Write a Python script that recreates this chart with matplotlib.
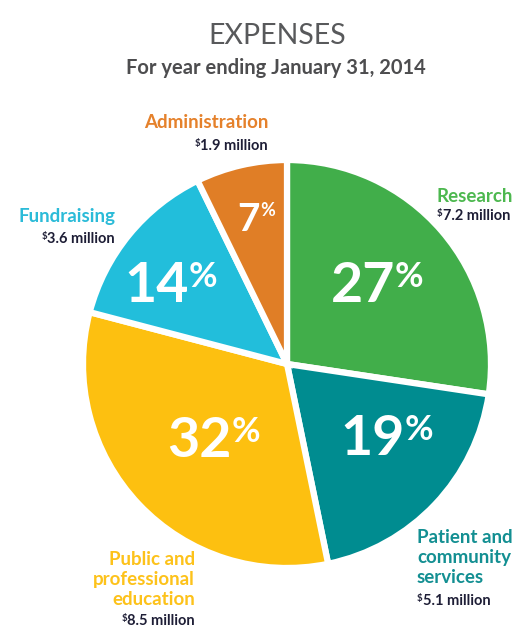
import matplotlib.pyplot as plt

plt.rcParams['font.family'] = ['Lato', 'DejaVu Sans']

W, H = 519, 630

categories = ['Research', 'Patient and\ncommunity\nservices', 'Public and\nprofessional\neducation',
              'Fundraising', 'Administration']
amounts = [7.2, 5.1, 8.5, 3.6, 1.9]   # $ million
colors = ['#41ae4a', '#008c90', '#fdc010', '#22bedb', '#e07e26']
label_colors = ['#4db84f', '#138f92', '#fdc21a', '#2bbbd8', '#e5812b']
amount_color = '#1e1e36'

# layout (image pixel coords, y downward): label x, first baseline, alignment
label_pos = [(437, 202, 'left'), (417, 543, 'left'), (195, 565, 'right'),
             (115, 222, 'right'), (268, 128, 'right')]
amount_base = [220, 605, 625, 243, 150]
pct_pos = [(377, 302, 40, 25), (387, 455, 40, 25), (214, 457, 40, 25),
           (171, 302, 40, 25), (256, 231, 28, 13)]

fig = plt.figure(figsize=(W / 100, H / 100), dpi=100)
ax = fig.add_axes([0, 0, 1, 1])
ax.pie(amounts, colors=colors, startangle=90, counterclock=False,
       center=(287, H - 364), radius=204,
       wedgeprops=dict(edgecolor='white', linewidth=4.5))
ax.set_xlim(0, W)
ax.set_ylim(0, H)
ax.axis('off')

r = fig.canvas.get_renderer()


def width(t):
    return t.get_window_extent(renderer=r).width


## title
ax.text(277, H - 36, 'EXPENSES', ha='center', va='center', size=20.5, color='#58595b')
ax.text(276, H - 68, 'For year ending January 31, 2014', ha='center', va='center',
        size=14.5, weight='bold', color='#4d4d4f')

total = sum(amounts)
for i in range(len(amounts)):
    # percent inside the slice, with a smaller % sign
    x, yb, big, small = pct_pos[i]
    num = '{:.0f}'.format(amounts[i] / total * 100)
    t1 = ax.text(0, H - yb, num, size=big, weight='bold', color='white',
                 ha='left', va='baseline')
    t2 = ax.text(0, H - yb + (big - small), '%', size=small, weight='bold',
                 color='white', ha='left', va='baseline')
    w1, w2 = width(t1), width(t2)
    x0 = x - (w1 + w2) / 2
    t1.set_x(x0)
    t2.set_x(x0 + w1)

    # category name
    lx, lb, ha = label_pos[i]
    for j, line in enumerate(categories[i].split('\n')):
        ax.text(lx, H - (lb + 20 * j), line, size=13.5, weight='bold',
                color=label_colors[i], ha=ha, va='baseline')

    # amount with superscript $
    ab = H - amount_base[i]
    m = ax.text(0, ab, '{} million'.format(amounts[i]), size=10.5, weight='bold',
                color=amount_color, ha='left', va='baseline')
    s = ax.text(0, ab + 4, '$', size=7, weight='bold', color=amount_color,
                ha='left', va='baseline')
    wm, ws = width(m), width(s)
    if ha == 'left':
        s.set_x(lx)
        m.set_x(lx + ws)
    else:
        m.set_x(lx - wm)
        s.set_x(lx - wm - ws)

fig.savefig('out.png', dpi=100)
